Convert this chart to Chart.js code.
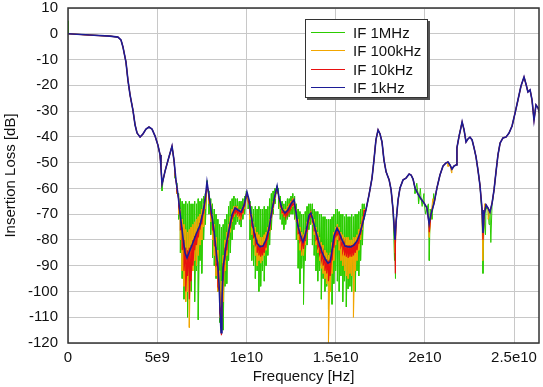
<!DOCTYPE html>
<html lang="en">
<head>
<meta charset="UTF-8" />
<title>Insertion Loss vs Frequency</title>
<script src="https://cdn.jsdelivr.net/npm/chart.js"></script>
<style>
  body { margin: 0; background: #fff; }
  #wrap { position: relative; width: 543px; height: 387px; }
  #legend {
    position: absolute; left: 305px; top: 19px; width: 123px; height: 79px;
    box-sizing: border-box; padding-top: 3px;
    border: 1px solid #333; background: #fff; box-shadow: 2px 2px 0 #555;
    font: 15px "Liberation Sans", Arial, sans-serif; color: #111;
  }
  .row { height: 18.5px; display: flex; align-items: center; }
  .swatch { width: 34px; height: 0; border-top: 1px solid; margin: 0 8px 0 5px; }
</style>
</head>
<body>
<div id="wrap">
  <canvas id="lossChart"></canvas>
  <div id="legend"></div>
</div>
<script>
// ---- data (frequency in GHz, loss in dB) ----
const seriesLabels = ["IF 1MHz", "IF 100kHz", "IF 10kHz", "IF 1kHz"];

// IF 1kHz trace (the clean one)
const ifLoss1k = [
  [0, 0], [1.23, -0.5], [2.35, -0.9], [2.8, -1.3], [2.97, -2.4], [3.08, -5.1], [3.25, -11],
  [3.36, -18], [3.48, -23.8], [3.64, -29.6], [3.76, -35.4], [3.87, -38.5], [4.04, -40.1],
  [4.2, -38.9], [4.37, -37], [4.54, -36.2], [4.71, -37], [4.88, -39.7], [5.04, -43.2],
  [5.16, -47], [5.21, -51.7], [5.27, -58.3], [5.33, -56.7], [5.44, -53.3], [5.61, -49],
  [5.77, -45.1], [5.83, -43.6], [5.94, -49],
  [6.05, -56.7], [6.17, -62.6], [6.28, -69.6], [6.45, -79.3], [6.56, -85], [6.67, -87],
  [6.78, -85], [6.95, -82], [7.17, -78], [7.4, -74.2], [7.57, -69.2], [7.68, -64.5],
  [7.79, -57.5], [7.9, -62.6], [8.02, -68.4], [8.18, -76.1], [8.3, -84], [8.41, -91],
  [8.47, -97.5], [8.52, -107.2], [8.58, -116], [8.63, -103], [8.69, -91], [8.86, -82],
  [9.02, -76.1], [9.19, -70.3], [9.36, -67.6], [9.53, -68.4], [9.7, -69.2], [9.87, -66.5],
  [10.03, -61.4], [10.15, -64.5], [10.26, -70.3], [10.43, -76.9], [10.59, -81.2],
  [10.76, -82.7], [10.93, -82.4], [11.1, -80], [11.27, -75.4], [11.43, -68.4], [11.6, -62.6],
  [11.72, -59.1], [11.83, -63.7], [12.0, -68], [12.16, -69.6], [12.33, -68.4], [12.5, -66],
  [12.67, -64.5], [12.78, -69.2], [12.89, -74.6], [13.06, -78.9], [13.17, -80.8],
  [13.28, -78.5], [13.4, -74.6], [13.51, -70.3], [13.62, -69.6], [13.73, -72.3],
  [13.9, -76.9], [14.07, -81.2], [14.24, -84.7], [14.41, -87.4], [14.57, -89], [14.69, -88.6],
  [14.8, -83.9], [14.91, -78.5], [15.08, -75.4], [15.19, -76.9], [15.36, -80], [15.53, -82.4],
  [15.7, -82.7], [15.86, -82.7], [16.03, -82], [16.2, -80.4], [16.37, -77.3], [16.54, -73],
  [16.7, -68.4], [16.87, -62.6], [17.04, -56], [17.15, -49], [17.26, -41.2], [17.38, -37.3],
  [17.49, -38.9], [17.6, -42], [17.71, -49], [17.83, -53.6], [18.0, -56.7], [18.11, -60.6],
  [18.22, -68.4], [18.33, -80], [18.39, -73], [18.5, -64.5], [18.61, -59.8], [18.78, -56.7],
  [18.95, -56], [19.12, -54.4], [19.23, -54.8], [19.34, -56.4], [19.45, -59.8], [19.62, -62.2],
  [19.79, -64.1], [19.96, -65.7], [20.12, -67.6], [20.24, -73.8], [20.35, -69.9],
  [20.52, -65.7], [20.68, -59.8], [20.85, -54.8], [21.02, -51.3], [21.19, -50.1],
  [21.3, -49.8], [21.41, -50.9], [21.52, -52.5], [21.64, -51.3], [21.75, -50.9],
  [21.8, -44.3], [21.92, -39.7], [22.03, -36.2], [22.09, -34.2], [22.2, -37.3], [22.31, -42],
  [22.42, -40.8], [22.53, -40.1], [22.65, -41.2], [22.76, -44.3], [22.87, -47.8],
  [22.98, -52.9], [23.09, -58.7], [23.21, -68.4], [23.26, -77.3], [23.32, -70.3],
  [23.43, -66.4], [23.54, -67.6], [23.65, -69.2], [23.77, -65.7], [23.88, -60.6],
  [23.99, -53.6], [24.1, -47], [24.22, -42.4], [24.38, -40.4], [24.55, -40.1], [24.72, -38.5],
  [24.89, -35.8], [25.06, -30.7], [25.22, -25.7], [25.39, -20.3], [25.56, -16.8],
  [25.67, -19.5], [25.78, -22.6], [25.9, -21.8], [26.01, -25.7], [26.12, -33.5],
  [26.23, -27.6], [26.35, -28.8], [26.46, -31.5]
];

// noisy stop band 6.0 - 16.6 GHz: upper and lower excursion at each frequency
const noiseFreqGHz = [
  6.0, 6.1, 6.2, 6.3, 6.4, 6.5, 6.6, 6.7, 6.8, 6.9,
  7.0, 7.1, 7.2, 7.3, 7.4, 7.5, 7.6, 7.7, 7.8, 7.9,
  8.0, 8.1, 8.2, 8.3, 8.4, 8.5, 8.6, 8.7, 8.8, 8.9,
  9.0, 9.1, 9.2, 9.3, 9.4, 9.5, 9.6, 9.7, 9.8, 9.9,
  10.0, 10.1, 10.2, 10.3, 10.4, 10.5, 10.6, 10.7, 10.8, 10.9,
  11.0, 11.1, 11.2, 11.3, 11.4, 11.5, 11.6, 11.7, 11.8, 11.9,
  12.0, 12.1, 12.2, 12.3, 12.4, 12.5, 12.6, 12.7, 12.8, 12.9,
  13.0, 13.1, 13.2, 13.3, 13.4, 13.5, 13.6, 13.7, 13.8, 13.9,
  14.0, 14.1, 14.2, 14.3, 14.4, 14.5, 14.6, 14.7, 14.8, 14.9,
  15.0, 15.1, 15.2, 15.3, 15.4, 15.5, 15.6, 15.7, 15.8, 15.9,
  16.0, 16.1, 16.2, 16.3, 16.4, 16.5, 16.6
];

const upper1MHz = [
  -54, -58, -62, -64, -65, -66, -65, -66, -65, -66,
  -66, -65, -66, -64, -65, -64, -63, -62, -57, -61,
  -64, -66, -68, -70, -72, -74, -75, -74, -72, -70,
  -67, -65, -64, -63, -64, -64, -65, -65, -64, -63,
  -61, -63, -65, -67, -68, -67, -68, -67, -68, -68,
  -67, -68, -67, -64, -62, -61, -60, -59, -60, -63,
  -65, -66, -65, -64, -64, -63, -62, -63, -66, -68,
  -69, -70, -70, -69, -67, -66, -66, -66, -68, -69,
  -69, -70, -70, -71, -71, -72, -72, -72, -71, -70,
  -68, -68, -69, -70, -70, -71, -70, -71, -71, -70,
  -71, -70, -70, -69, -68, -66, -66
];
const lower1MHz = [
  -56, -62, -72, -85, -95, -103, -92, -110, -96, -100,
  -90, -104, -92, -111, -88, -93, -80, -74, -60, -70,
  -78, -87, -90, -95, -100, -112, -116, -115, -98, -97,
  -88, -85, -80, -76, -74, -73, -74, -75, -72, -70,
  -64, -68, -80, -88, -90, -95, -92, -100, -98, -92,
  -96, -90, -86, -82, -76, -70, -66, -62, -68, -72,
  -74, -76, -74, -72, -71, -70, -70, -72, -80, -91,
  -97, -91, -105, -88, -82, -76, -74, -82, -86, -92,
  -96, -92, -103, -95, -100, -98, -107, -100, -105, -97,
  -92, -96, -100, -94, -104, -96, -106, -99, -98, -100,
  -94, -100, -92, -94, -88, -82, -72
];

const upper100kHz = [
  -54, -59, -63, -68, -72, -74, -76, -77, -76, -75,
  -74, -73, -72, -71, -70, -68, -66, -63, -58, -62,
  -66, -70, -74, -79, -84, -92, -96, -86, -80, -77,
  -74, -71, -68, -67, -67, -67, -68, -68, -67, -65,
  -62, -63, -66, -70, -73, -75, -77, -78, -79, -79,
  -78, -77, -75, -72, -68, -65, -62, -59.6, -62, -65,
  -67, -68, -68, -67, -66, -65, -64, -65, -68, -72,
  -75, -77, -78, -76, -73, -70, -69, -70, -72, -75,
  -77, -79, -81, -82, -84, -85, -86, -85, -81, -77,
  -75, -74, -75, -77, -78, -79, -79, -79, -80, -80,
  -79, -79, -78, -76, -74, -71, -68
];
const lower100kHz = [
  -55, -62, -70, -80, -92, -98, -104, -100, -114, -95,
  -92, -88, -90, -86, -82, -80, -75, -68, -60, -66,
  -73, -80, -86, -94, -100, -110, -116, -104, -92, -86,
  -80, -77, -73, -71, -70, -71, -72, -72, -70, -68,
  -63, -66, -72, -78, -82, -86, -90, -88, -89, -88,
  -86, -84, -80, -77, -72, -68, -64, -60.5, -64, -68,
  -70, -71, -71, -70, -69, -68, -67, -68, -73, -80,
  -84, -86, -86, -82, -77, -73, -71, -74, -78, -82,
  -85, -88, -91, -93, -95, -97, -120, -100, -93, -88,
  -82, -80, -84, -88, -90, -92, -94, -95, -93, -94,
  -110, -92, -88, -84, -80, -76, -70
];

const upper10kHz = [
  -54, -59.5, -64, -70, -75.5, -80, -83, -84, -83, -82,
  -80, -78.5, -77, -75.5, -73.5, -70.5, -67.5, -63.5, -58, -62.5,
  -67, -72, -77, -83, -89, -100, -106, -89, -83, -80,
  -76.5, -73, -70, -68.5, -67.8, -68.3, -68.7, -69.2, -67.8, -65.6,
  -62.3, -63.2, -67, -71.5, -75.5, -78, -80.5, -81.5, -82, -82,
  -81, -79.5, -77, -74, -69.6, -66, -62.6, -59.6, -62.4, -65.5,
  -68, -69, -69.3, -68.6, -67.4, -66, -65, -65.8, -69.6, -74.5,
  -77, -79, -80, -77.5, -74.5, -70.7, -69.7, -71.3, -74, -76.5,
  -79, -81.5, -83.5, -85, -86.5, -87.5, -88, -87.5, -83.5, -78.8,
  -76.4, -75.5, -77, -78.9, -80.4, -81.5, -82, -82, -82, -82,
  -81.5, -81, -80, -78.5, -75.6, -72.6, -68.4
];
const lower10kHz = [
  -54.5, -61, -67, -76, -84, -92, -100, -94, -103, -96,
  -90, -84, -82, -79, -76, -74, -70, -65, -59, -64,
  -70, -76, -82, -90, -98, -108, -117, -96, -88, -84,
  -79, -75.5, -72, -70, -69.5, -70, -70.5, -71, -69.5, -67,
  -63, -65, -69.5, -74.5, -79, -82, -85, -86, -86.5, -86,
  -85, -83, -80, -76.5, -71.5, -67.5, -63.5, -60, -63.5, -67,
  -69.5, -70.5, -71, -70, -69, -67.5, -66.5, -67.5, -71.5, -77.5,
  -80.5, -83, -83.5, -80.5, -77, -72.5, -71, -73, -76.5, -80,
  -83, -85.5, -88, -90, -92, -93, -96, -94, -88, -83,
  -79, -78, -80, -82.5, -84.5, -86, -86.5, -87, -86.5, -86.5,
  -86, -85, -84, -81.5, -78, -74.5, -69
];

// isolated excursions outside the stop band
const extra1MHz = [
  [0.01, 5], [0.03, 0], [5.27, -61], [18.3, -88], [18.34, -95], [18.37, -76],
  [19.45, -62], [19.55, -58], [19.65, -66], [19.75, -60], [19.85, -67], [19.95, -62],
  [20.05, -70], [20.2, -66], [20.25, -88], [20.3, -68], [20.4, -72], [20.5, -62],
  [23.2, -70], [23.26, -93], [23.32, -72], [23.4, -78], [23.45, -68], [23.6, -74],
  [23.7, -81], [23.78, -66]
];
const extra100kHz = [
  [18.34, -85], [20.25, -79], [20.45, -64], [21.3, -51.5], [21.5, -54],
  [23.22, -72], [23.26, -88], [23.35, -66], [23.55, -72]
];
const extra10kHz = [[18.34, -93], [18.36, -82], [20.25, -77], [23.26, -80]];

// ---- build ----
const bandLo = noiseFreqGHz[0];
const bandHi = noiseFreqGHz[noiseFreqGHz.length - 1];

function toPoints(pairs) {
  return pairs.map((p) => ({ x: p[0], y: p[1] }));
}

function buildSeries(upper, lower, extras) {
  const band = [];
  noiseFreqGHz.forEach((f, i) => {
    band.push([f, upper[i]], [f, lower[i]]);
  });
  const pts = ifLoss1k
    .filter((p) => p[0] < bandLo || p[0] > bandHi)
    .concat(band)
    .concat(extras)
    .sort((a, b) => a[0] - b[0]);
  return toPoints(pts);
}

const colors = ["#2ccc00", "#f2a600", "#e81010", "#1c1c96"];
const widths = [1, 1, 1.2, 1.6];
const seriesData = [
  buildSeries(upper1MHz, lower1MHz, extra1MHz),
  buildSeries(upper100kHz, lower100kHz, extra100kHz),
  buildSeries(upper10kHz, lower10kHz, extra10kHz),
  toPoints(ifLoss1k),
];

// legend (html, placed inside the plot like the original)
const legendBox = document.getElementById("legend");
seriesLabels.forEach((label, i) => {
  const row = document.createElement("div");
  row.className = "row";
  row.innerHTML = `<span class="swatch" style="border-color:${colors[i]}"></span>${label}`;
  legendBox.appendChild(row);
});

// frame around plot area
const frame = {
  id: "frame",
  afterDatasetsDraw(chart) {
    const { ctx, chartArea: a } = chart;
    ctx.save();
    ctx.strokeStyle = "#333";
    ctx.lineWidth = 1.5;
    ctx.strokeRect(a.left, a.top, a.right - a.left, a.bottom - a.top);
    ctx.restore();
  },
};

Chart.defaults.font.family = '"Liberation Sans", Arial, sans-serif';
Chart.defaults.font.size = 15;
Chart.defaults.color = "#111";

new Chart(document.getElementById("lossChart"), {
  type: "line",
  data: {
    datasets: seriesLabels.map((label, i) => ({
      label: label,
      data: seriesData[i],
      borderColor: colors[i],
      borderWidth: widths[i],
      pointRadius: 0,
      tension: 0,
      order: 4 - i, // blue on top, green at the bottom
    })),
  },
  options: {
    responsive: true,
    maintainAspectRatio: false,
    animation: false,
    layout: { padding: { top: 8, right: 4, left: 0, bottom: 0 } },
    plugins: { legend: { display: false }, tooltip: { enabled: false } },
    scales: {
      x: {
        type: "linear",
        min: 0,
        max: 26.4,
        afterFit: (s) => {
          s.height = 44;
          s.paddingLeft = 0;
          s.paddingRight = 0;
        },
        grid: { color: "#c8c8c8", drawTicks: false },
        border: { display: false },
        ticks: {
          stepSize: 5,
          includeBounds: false,
          maxRotation: 0,
          padding: 6,
          // axis runs in GHz, labels in Hz like the original
          callback: (v) => (v === 0 ? "0" : (v * 1e9).toExponential().replace("e+", "e")),
        },
        title: { display: true, text: "Frequency [Hz]", padding: { top: 0, bottom: 1 } },
      },
      y: {
        min: -120,
        max: 10,
        afterFit: (s) => {
          s.width = 68;
          s.paddingTop = 0;
          s.paddingBottom = 0;
        },
        grid: { color: "#c8c8c8", drawTicks: false },
        border: { display: false },
        ticks: { stepSize: 10, autoSkip: false, padding: 10 },
        title: { display: true, text: "Insertion Loss [dB]", padding: { top: 2, bottom: 0 } },
      },
    },
  },
  plugins: [frame],
});
</script>
</body>
</html>
